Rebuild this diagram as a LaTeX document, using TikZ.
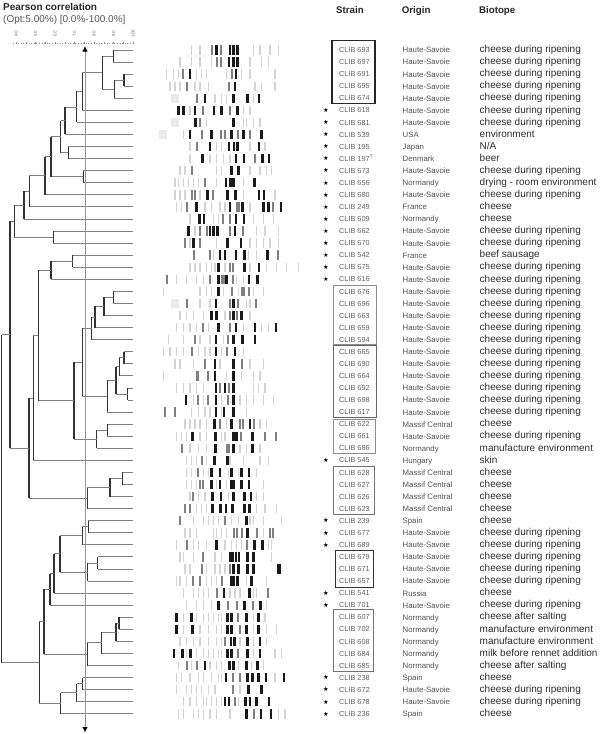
\documentclass[tikz,border=0pt]{standalone}
\usepackage{fontspec}
\setmainfont{Liberation Sans}
\newfontfamily\symf{DejaVu Sans}
\usetikzlibrary{arrows.meta,calc}
\tikzset{
 hl/.style={draw=black!50, line width=0.9pt},
 vl/.style={draw=black!80, line width=1.1pt},
 strainsty/.style={anchor=base west, inner sep=0, text=black!62, font=\fontsize{7.3}{8}\selectfont},
 originsty/.style={anchor=base west, inner sep=0, text=black!68, font=\fontsize{7.8}{9}\selectfont},
 biosty/.style={anchor=base west, inner sep=0, text=black!82, font=\fontsize{10}{12}\selectfont},
 starsty/.style={inner sep=0, font=\symf\fontsize{6.2}{6}\selectfont},
 hdr/.style={anchor=base west, inner sep=0, font=\bfseries\fontsize{9.7}{11}\selectfont, text=black!85},
 scalelab/.style={rotate=90, inner sep=0, text=black!55, font=\fontsize{4.5}{4.5}\selectfont},
}
\newcommand\hsv{Haute-Savoie}
\newcommand\cdrp{cheese during ripening}
\newcommand\srow[5]{%
  \pgfmathsetmacro\ry{50+12.07*#1}%
  \ifnum#2=1 \node[starsty] (st#1) at (326,\ry) {★};\fi
  \coordinate (L#1) at (133,\ry);
  \node[strainsty] (s#1) at (339,\ry+2.6) {CLIB #3};
  \node[originsty] (o#1) at (402.5,\ry+2.9) {#4};
  \node[biosty] (b#1) at (479.5,\ry+2.7) {#5};
}
\newcommand\lane[4]{%
  \pgfmathsetmacro\ly{50+12.07*#1}%
  \foreach \bb in {#4}{\fill[black!17] ({150+\bb/3-0.75},{\ly-4.7}) rectangle ++(1.5,9.4);}%
  \foreach \bb in {#3}{\fill[black!50] ({150+\bb/3-1},{\ly-4.7}) rectangle ++(2,9.4);}%
  \foreach \bb in {#2}{\fill[black!90] ({150+\bb/3-1.4},{\ly-4.7}) rectangle ++(2.8,9.4);}%
}
\newcommand\patch[2]{%
  \pgfmathsetmacro\ly{50+12.07*#1}%
  \fill[black!8] ({#2-4},{\ly-4.7}) rectangle ++(8,9.4);%
}
\newcommand\dendjoin[4]{%
  \path (#2) -- (#3) coordinate[pos=0.5] (#1m);
  \coordinate (#1x) at (#4,0);
  \coordinate (#1) at (#1m -| #1x);
  \draw[hl] (#2) -- (#2 -| #1);
  \draw[hl] (#3) -- (#3 -| #1);
  \draw[vl] (#2 -| #1) -- (#3 -| #1);
}
\begin{document}
\begin{tikzpicture}[x=1pt,y=-1pt]
\fill[white] (0,0) rectangle (600,734);
\useasboundingbox (0,0) rectangle (600,734);

% titles
\node[anchor=base west, inner sep=0, font=\bfseries\fontsize{10}{12}\selectfont, text=black!85] (title) at (3,10) {Pearson correlation};
\node[anchor=base west, inner sep=0, font=\fontsize{10}{12}\selectfont, text=black!65] (subtitle) at (3,22.2) {(Opt:5.00\%) [0.0\%-100.0\%]};
\node[hdr] (hStrain) at (336,13.4) {Strain};
\node[hdr] (hOrigin) at (401.7,13.4) {Origin};
\node[hdr] (hBiotope) at (479,13.4) {Biotope};

% scale
\draw[black!45, line width=0.6pt, dotted] (13,43) -- (133,43);
\foreach \v in {40,45,...,100}{\draw[black!45, line width=0.5pt] ({16+(\v-40)*1.95},41.5) -- ({16+(\v-40)*1.95},43.5);}
\foreach \v in {40,50,...,100}{\node[scalelab] (sc\v) at ({16+(\v-40)*1.95},33.5) {\v};}

% rows
\srow{0}{0}{693}{\hsv}{\cdrp}
\srow{1}{0}{697}{\hsv}{\cdrp}
\srow{2}{0}{691}{\hsv}{\cdrp}
\srow{3}{0}{695}{\hsv}{\cdrp}
\srow{4}{0}{674}{\hsv}{\cdrp}
\srow{5}{1}{618}{\hsv}{\cdrp}
\srow{6}{1}{681}{\hsv}{\cdrp}
\srow{7}{1}{539}{USA}{environment}
\srow{8}{1}{195}{Japan}{N/A}
\srow{9}{1}{197\textsuperscript{T}}{Denmark}{beer}
\srow{10}{1}{673}{\hsv}{\cdrp}
\srow{11}{1}{656}{Normandy}{drying - room environment}
\srow{12}{1}{680}{\hsv}{\cdrp}
\srow{13}{1}{249}{France}{cheese}
\srow{14}{1}{609}{Normandy}{cheese}
\srow{15}{1}{662}{\hsv}{\cdrp}
\srow{16}{1}{670}{\hsv}{\cdrp}
\srow{17}{1}{542}{France}{beef sausage}
\srow{18}{1}{675}{\hsv}{\cdrp}
\srow{19}{1}{616}{\hsv}{\cdrp}
\srow{20}{0}{676}{\hsv}{\cdrp}
\srow{21}{0}{696}{\hsv}{\cdrp}
\srow{22}{0}{663}{\hsv}{\cdrp}
\srow{23}{0}{659}{\hsv}{\cdrp}
\srow{24}{0}{594}{\hsv}{\cdrp}
\srow{25}{0}{665}{\hsv}{\cdrp}
\srow{26}{0}{690}{\hsv}{\cdrp}
\srow{27}{0}{664}{\hsv}{\cdrp}
\srow{28}{0}{692}{\hsv}{\cdrp}
\srow{29}{0}{698}{\hsv}{\cdrp}
\srow{30}{0}{617}{\hsv}{\cdrp}
\srow{31}{0}{622}{Massif Central}{cheese}
\srow{32}{0}{661}{\hsv}{\cdrp}
\srow{33}{0}{686}{Normandy}{manufacture environment}
\srow{34}{1}{545}{Hungary}{skin}
\srow{35}{0}{628}{Massif Central}{cheese}
\srow{36}{0}{627}{Massif Central}{cheese}
\srow{37}{0}{626}{Massif Central}{cheese}
\srow{38}{0}{623}{Massif Central}{cheese}
\srow{39}{1}{239}{Spain}{cheese}
\srow{40}{1}{677}{\hsv}{\cdrp}
\srow{41}{1}{689}{\hsv}{\cdrp}
\srow{42}{0}{679}{\hsv}{\cdrp}
\srow{43}{0}{671}{\hsv}{\cdrp}
\srow{44}{0}{657}{\hsv}{\cdrp}
\srow{45}{1}{541}{Russia}{cheese}
\srow{46}{1}{701}{\hsv}{\cdrp}
\srow{47}{0}{607}{Normandy}{cheese after salting}
\srow{48}{0}{702}{Normandy}{manufacture environment}
\srow{49}{0}{608}{Normandy}{manufacture environment}
\srow{50}{0}{684}{Normandy}{milk before rennet addition}
\srow{51}{0}{685}{Normandy}{cheese after salting}
\srow{52}{1}{238}{Spain}{cheese}
\srow{53}{1}{672}{\hsv}{\cdrp}
\srow{54}{1}{678}{\hsv}{\cdrp}
\srow{55}{1}{236}{Spain}{cheese}

% group boxes
\draw[black!85, line width=1.1pt] (332,40.7) rectangle (375,103.3);
\draw[black!45, line width=0.8pt] (333.3,285.7) rectangle (376.7,344);
\draw[black!60, line width=1.1pt] (333.3,345.7) rectangle (376.3,417.3);
\draw[black!45, line width=0.8pt] (333.3,419) rectangle (375.7,453.3);
\draw[black!55, line width=0.9pt] (333.3,466) rectangle (374,514);
\draw[black!80, line width=1.1pt] (335.7,550.7) rectangle (373.3,587.3);
\draw[black!55, line width=0.9pt] (333.3,609.3) rectangle (373.3,671.7);

% gel lanes
\patch{4}{175}\patch{6}{175}\patch{7}{163.3}\patch{21}{175}
\lane{0}{200,240,250,262}{213,185}{125,150,310,330,360,385}
\lane{1}{237,250,262}{200,213}{90,125,150,185,300,335,355}
\lane{2}{120,258}{100,245}{50,70,85,140,155,170,230,275,300,375}
\lane{3}{255}{110,238}{60,75,90,135,150,175,315,335,375}
\lane{4}{165,250,293,327}{140}{195,215,230,310}
\lane{5}{85,100,135,192,215,262}{160,240}{120,280,300}
\lane{6}{137,250}{150}{170,280,290,310,330}
\lane{7}{120,185,245,280,335}{155,213,225,265,300}{100}
\lane{8}{180,237,252,262,327}{140}{120,200,215,300,345}
\lane{9}{157,258,282,338,357}{315}{120,180,200,220,240}
\lane{10}{245,265}{125}{90,105,200,215,300,330,350,365}
\lane{11}{228,242,250,313}{165}{75,85,100,115,130,145,200,280}
\lane{12}{172,232,257,327,342}{125,135,190}{75,90,105,150,280,375}
\lane{13}{140,240,277,340,355,393}{112,260,268,370}{80,95,165,185,210,225,300}
\lane{14}{148,162,258,282}{240,218}{120,190,205,310,340,370}
\lane{15}{115,180,190,203,255}{150,170,240,280}{135,320,345,385}
\lane{16}{130,233,273}{150,105}{120,200,300,320,340,360,385}
\lane{17}{210,225,258,283,353}{132,180,385}{190,295,320}
\lane{18}{205,283,327}{240,250}{120,135,150,170,185,195,225,300,350,380,410,445}
\lane{19}{205,230,297,322}{180,215,222,250,50}{80,110,140,160,260,280}
\lane{20}{205}{245,275,283,297}{40,150,170,185,220,265,310,340}
\lane{21}{198,250}{112,240,265,318}{150,180,290,300}
\lane{22}{185,200,250,275}{240,262}{90,110,130,160,225,300}
\lane{23}{205,258,315,378}{160,240}{80,100,120,140,175,280,335,355}
\lane{24}{198,250,278,315}{135,235}{55,100,150,180,220}
\lane{25}{198,255}{125,230}{40,60,80,100,145,165,180,215,280}
\lane{26}{195,250}{165,275}{75,90,130,210,300,340}
\lane{27}{195,250}{140,145,175}{40,230,275,310,330}
\lane{28}{198,225,250}{210,237}{80,100,120,140,160,310,325,345}
\lane{29}{108,198,250}{145,175,233}{130,160,215,270,290,310,340,370}
\lane{30}{198,222,250}{75,45}{125,145,165,180,215,290}
\lane{31}{193,245,300}{210,270,280,312}{105,120,135,150,170,230,330,350}
\lane{32}{128,197,250,260,307}{272,345,378}{80,95,110,150,170,215,225}
\lane{33}{197,250,308}{95,230,237}{120,145,170,270,290,330}
\lane{34}{193,232}{155}{110,125,140,170,240,280,330,355}
\lane{35}{185,210,245,275,297}{145}{110,125,160,175,235,265,320}
\lane{36}{185,210,243,250,275,297}{150,160}{110,125,140,200,230,340}
\lane{37}{188,213,250,283,303}{130}{120,145,165,235,320,340}
\lane{38}{187,212,228,248,283,298}{105,120}{140,155,170,320,345,380}
\lane{39}{290}{90,225}{130,160,175,190,205,245,265,300,310,340,395}
\lane{40}{292}{252,262,275,320,360,370}{105,120,140,190,200,215,230,340}
\lane{41}{200,313,337}{110,290}{80,130,145,170,225,245,260,275,355,365}
\lane{42}{240,248,258,267,293,310}{160}{90,100,130,195,215,365}
\lane{43}{250,265,293,310,385,390}{155,240}{105,120,170,195,210,225}
\lane{44}{245,252,262,305}{130,150,215}{80,90,110,170,185,200,290,350}
\lane{45}{222,298}{200,355}{100,130,145,160,175,240,255,270,310,320}
\lane{46}{205,283,332}{235,262,310}{110,140,160,185,350}
\lane{47}{80,125,233,245,290,325}{265}{100,140,160,175,190,205,215,310,345}
\lane{48}{80,127,233,245,290,325}{270}{100,150,175,200,215,310,350,380}
\lane{49}{243,253,292,330}{225}{90,110,130,150,175,200,215,270,310,350}
\lane{50}{72,97,122,233,245,292,330}{265}{110,140,160,175,190,205,215,310,375,395}
\lane{51}{165,238,250,290,323}{110,140}{85,125,180,200,215,265,305,340}
\lane{52}{228,292,308,325,348,402}{250,270}{80,95,120,145,160,185,205,215,375}
\lane{53}{295,335}{250}{80,110,125,140,155,175,195,270}
\lane{54}{225,237,287,300,320,357}{255}{100,120,140,160,170,185,200,215,265}
\lane{55}{290,333,363}{312}{85,100,130,145,160,180,200,240,385,405}

% dendrogram
\dendjoin{a1}{L0}{L1}{113.3}
\dendjoin{a2}{L2}{L3}{124}
\dendjoin{a3}{a2}{L4}{114.3}
\dendjoin{a4}{a1}{a3}{102.3}
\dendjoin{a5}{a4}{L5}{82.3}
\dendjoin{a6}{a5}{L6}{76.7}
\dendjoin{a7}{a6}{L7}{65}
\dendjoin{a8}{L8}{L9}{68.3}
\dendjoin{a9}{a7}{a8}{60.7}
\dendjoin{a10}{L10}{L11}{83.3}
\dendjoin{a11}{a9}{a10}{51}
\dendjoin{a12}{a11}{L12}{45}
\dendjoin{a13}{a12}{L13}{29.3}
\dendjoin{a14}{a13}{L14}{24}
\dendjoin{a15}{L15}{L16}{53.3}
\dendjoin{a16}{a14}{a15}{14.3}
\dendjoin{b1}{L17}{L18}{72.7}
\dendjoin{b2}{b1}{L19}{51}
\dendjoin{b3}{L20}{L21}{113.3}
\dendjoin{b4}{b3}{L22}{104}
\dendjoin{b5}{b4}{L23}{95}
\dendjoin{b6}{b5}{L24}{91.7}
\dendjoin{b7}{L25}{L26}{124}
\dendjoin{b8}{b7}{L27}{119.3}
\dendjoin{b9}{L28}{L29}{127.7}
\dendjoin{b10}{b8}{b9}{116}
\dendjoin{b11}{b10}{L30}{107.3}
\dendjoin{b12}{b6}{b11}{82.3}
\dendjoin{b13}{L31}{L32}{107.3}
\dendjoin{b14}{b13}{L33}{96.7}
\dendjoin{b15}{b12}{b14}{74}
\dendjoin{b16}{b2}{b15}{38.3}
\dendjoin{b17}{b16}{L34}{33.3}
\dendjoin{c1}{L35}{L36}{122.3}
\dendjoin{c2}{c1}{L37}{110}
\dendjoin{c3}{c2}{L38}{87.3}
\dendjoin{c4}{b17}{c3}{29}
\dendjoin{d0}{a16}{c4}{10}
\dendjoin{e1}{L39}{L40}{88.3}
\dendjoin{e2}{e1}{L41}{82.3}
\dendjoin{e3}{L42}{L43}{97.7}
\dendjoin{e4}{e3}{L44}{87.7}
\dendjoin{e5}{e2}{e4}{60}
\dendjoin{e6}{e5}{L45}{54}
\dendjoin{e7}{e6}{L46}{50}
\dendjoin{f1}{L47}{L48}{119}
\dendjoin{f2}{f1}{L49}{116}
\dendjoin{f3}{f2}{L50}{101.7}
\dendjoin{f4}{f3}{L51}{87.3}
\dendjoin{g1}{e7}{f4}{44}
\dendjoin{h1}{L52}{L53}{82.7}
\dendjoin{h2}{h1}{L54}{76.7}
\dendjoin{h3}{h2}{L55}{60.7}
\dendjoin{g2}{g1}{h3}{39.3}
\dendjoin{root}{d0}{g2}{1.5}

% cutoff line
\coordinate (cutT) at (85,46);
\coordinate (cutB) at (85,732.5);
\draw[black!42, line width=1pt, {Latex[color=black,length=5.5pt,width=5.5pt]}-{Latex[color=black,length=5.5pt,width=5.5pt]}] (cutT) -- (cutB);
\end{tikzpicture}
\end{document}
